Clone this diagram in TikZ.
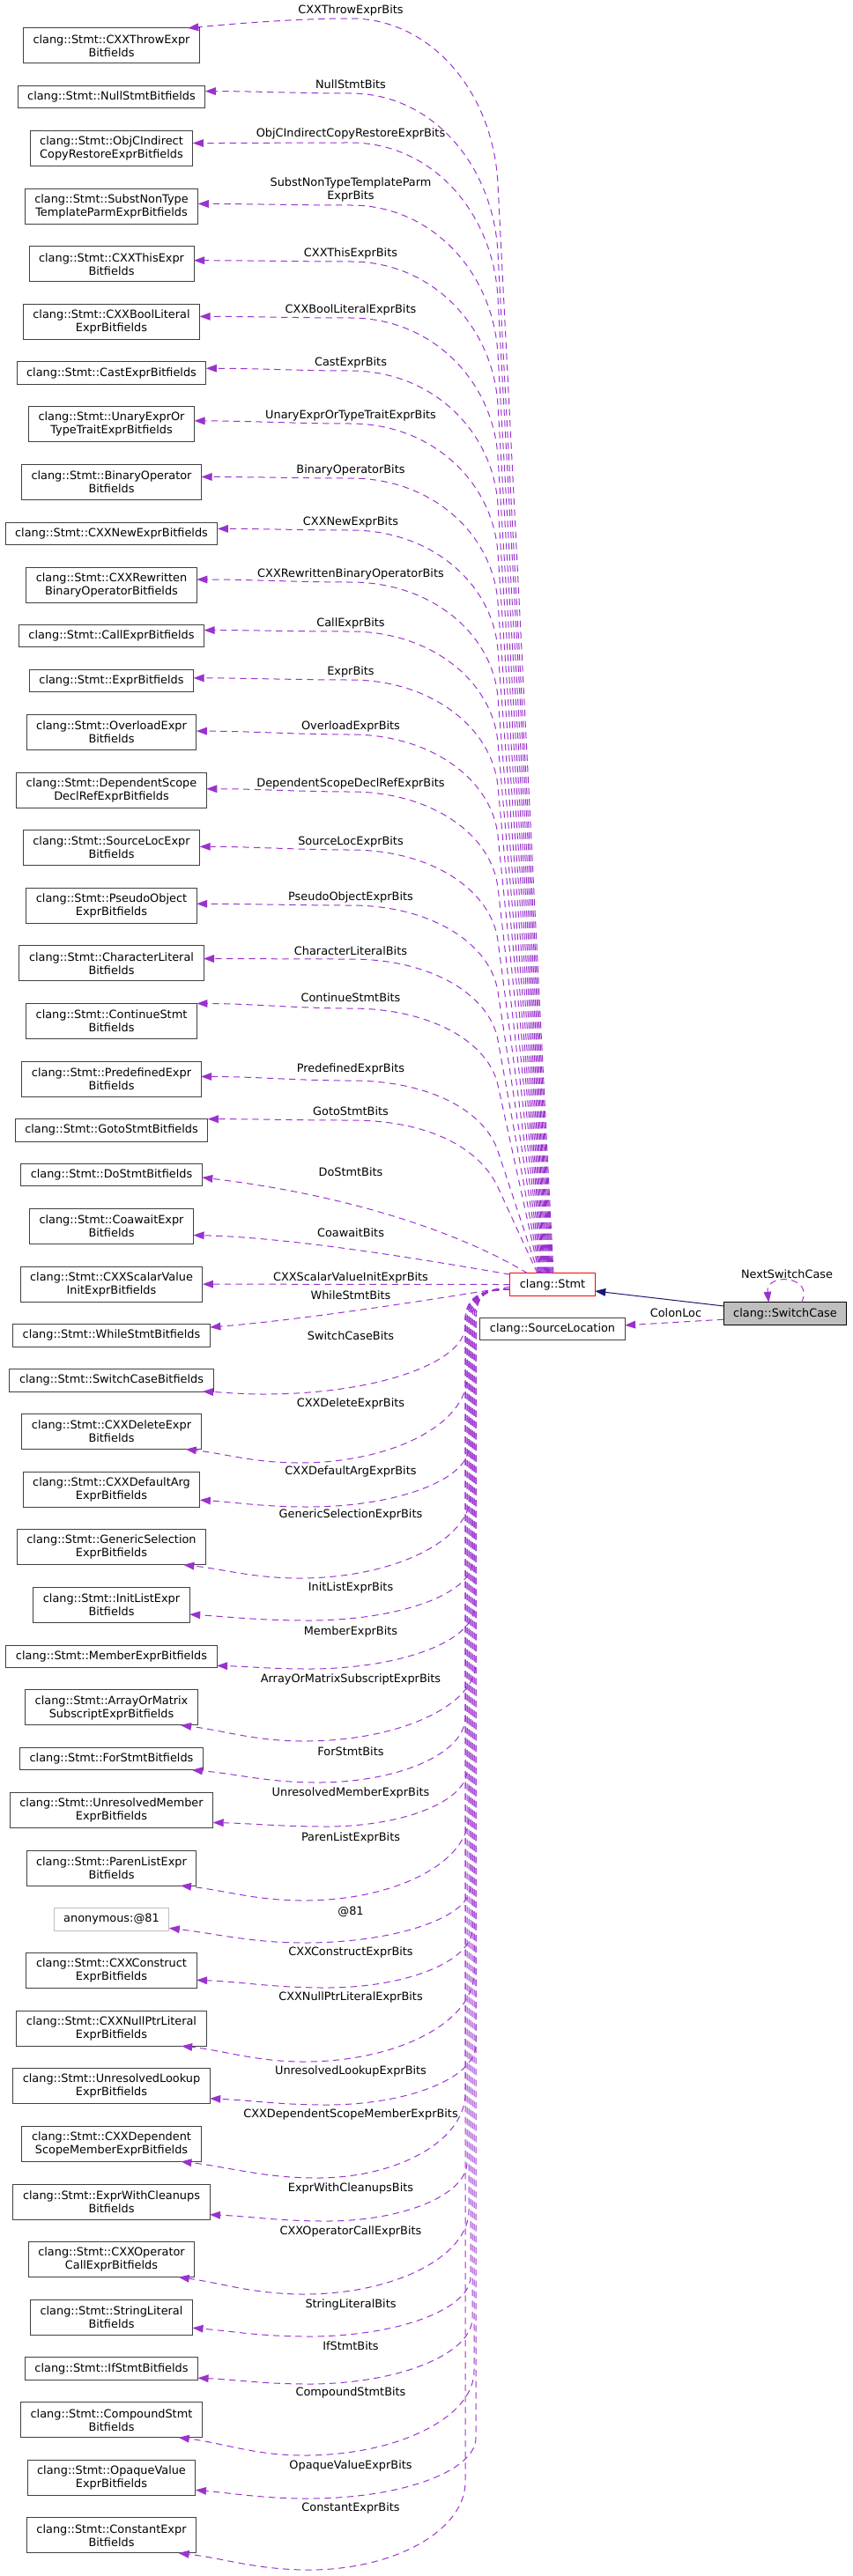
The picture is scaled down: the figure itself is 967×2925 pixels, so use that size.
\documentclass[tikz,border=0pt]{standalone}
\usepackage{fontspec}
\usetikzlibrary{positioning, arrows.meta}
\newfontfamily\dvs{DejaVu Sans}
\newcommand{\gfont}{\dvs\fontsize{9.65pt}{11.25pt}\selectfont}
\definecolor{depcol}{HTML}{9A32CD}
\definecolor{inhcol}{HTML}{191970}
\definecolor{boxcol}{HTML}{404040}
\definecolor{anoncol}{HTML}{BFBFBF}
\tikzset{
  bf/.style   = {draw=boxcol, fill=white, line width=0.75pt, align=center, inner xsep=8.3pt, inner ysep=2pt, outer sep=0pt, minimum height=19pt, font=\gfont},
  bf2/.style  = {bf, minimum height=30pt},
  lbl/.style  = {align=center, inner sep=0pt, font=\gfont},
  dep/.style  = {draw=depcol, line width=0.75pt, dash pattern=on 5.5pt off 4pt, -{Triangle[length=9pt, width=6.5pt]}},
  inh/.style  = {draw=inhcol, line width=0.75pt, -{Triangle[length=9pt, width=6.5pt]}}
}
\begin{document}
\begin{tikzpicture}[x=0.75pt, y=0.75pt]
  \useasboundingbox (0,0) rectangle (967,-2925);

  \node[bf2]                      (b1)  at (126.5,-52) {clang::Stmt::CXXThrowExpr\\Bitfields};
  \node[bf,  below=19.2pt of b1]  (b2)  {clang::Stmt::NullStmtBitfields};
  \node[bf2, below=19.2pt of b2]  (b3)  {clang::Stmt::ObjCIndirect\\CopyRestoreExprBitfields};
  \node[bf2, below=19.2pt of b3]  (b4)  {clang::Stmt::SubstNonType\\TemplateParmExprBitfields};
  \node[bf2, below=19.2pt of b4]  (b5)  {clang::Stmt::CXXThisExpr\\Bitfields};
  \node[bf2, below=19.2pt of b5]  (b6)  {clang::Stmt::CXXBoolLiteral\\ExprBitfields};
  \node[bf,  below=19.2pt of b6]  (b7)  {clang::Stmt::CastExprBitfields};
  \node[bf2, below=19.2pt of b7]  (b8)  {clang::Stmt::UnaryExprOr\\TypeTraitExprBitfields};
  \node[bf2, below=19.2pt of b8]  (b9)  {clang::Stmt::BinaryOperator\\Bitfields};
  \node[bf,  below=19.2pt of b9]  (b10) {clang::Stmt::CXXNewExprBitfields};
  \node[bf2, below=19.2pt of b10] (b11) {clang::Stmt::CXXRewritten\\BinaryOperatorBitfields};
  \node[bf,  below=19.2pt of b11] (b12) {clang::Stmt::CallExprBitfields};
  \node[bf,  below=19.2pt of b12] (b13) {clang::Stmt::ExprBitfields};
  \node[bf2, below=19.2pt of b13] (b14) {clang::Stmt::OverloadExpr\\Bitfields};
  \node[bf2, below=19.2pt of b14] (b15) {clang::Stmt::DependentScope\\DeclRefExprBitfields};
  \node[bf2, below=19.2pt of b15] (b16) {clang::Stmt::SourceLocExpr\\Bitfields};
  \node[bf2, below=19.2pt of b16] (b17) {clang::Stmt::PseudoObject\\ExprBitfields};
  \node[bf2, below=19.2pt of b17] (b18) {clang::Stmt::CharacterLiteral\\Bitfields};
  \node[bf2, below=19.2pt of b18] (b19) {clang::Stmt::ContinueStmt\\Bitfields};
  \node[bf2, below=19.2pt of b19] (b20) {clang::Stmt::PredefinedExpr\\Bitfields};
  \node[bf,  below=19.2pt of b20] (b21) {clang::Stmt::GotoStmtBitfields};
  \node[bf,  below=19.2pt of b21] (b22) {clang::Stmt::DoStmtBitfields};
  \node[bf2, below=19.2pt of b22] (b23) {clang::Stmt::CoawaitExpr\\Bitfields};
  \node[bf2, below=19.2pt of b23] (b24) {clang::Stmt::CXXScalarValue\\InitExprBitfields};
  \node[bf,  below=19.2pt of b24] (b25) {clang::Stmt::WhileStmtBitfields};
  \node[bf,  below=19.2pt of b25] (b26) {clang::Stmt::SwitchCaseBitfields};
  \node[bf2, below=19.2pt of b26] (b27) {clang::Stmt::CXXDeleteExpr\\Bitfields};
  \node[bf2, below=19.2pt of b27] (b28) {clang::Stmt::CXXDefaultArg\\ExprBitfields};
  \node[bf2, below=19.2pt of b28] (b29) {clang::Stmt::GenericSelection\\ExprBitfields};
  \node[bf2, below=19.2pt of b29] (b30) {clang::Stmt::InitListExpr\\Bitfields};
  \node[bf,  below=19.2pt of b30] (b31) {clang::Stmt::MemberExprBitfields};
  \node[bf2, below=19.2pt of b31] (b32) {clang::Stmt::ArrayOrMatrix\\SubscriptExprBitfields};
  \node[bf,  below=19.2pt of b32] (b33) {clang::Stmt::ForStmtBitfields};
  \node[bf2, below=19.2pt of b33] (b34) {clang::Stmt::UnresolvedMember\\ExprBitfields};
  \node[bf2, below=19.2pt of b34] (b35) {clang::Stmt::ParenListExpr\\Bitfields};
  \node[bf,  below=19.2pt of b35, draw=anoncol] (b36) {anonymous:@81};
  \node[bf2, below=19.2pt of b36] (b37) {clang::Stmt::CXXConstruct\\ExprBitfields};
  \node[bf2, below=19.2pt of b37] (b38) {clang::Stmt::CXXNullPtrLiteral\\ExprBitfields};
  \node[bf2, below=19.2pt of b38] (b39) {clang::Stmt::UnresolvedLookup\\ExprBitfields};
  \node[bf2, below=19.2pt of b39] (b40) {clang::Stmt::CXXDependent\\ScopeMemberExprBitfields};
  \node[bf2, below=19.2pt of b40] (b41) {clang::Stmt::ExprWithCleanups\\Bitfields};
  \node[bf2, below=19.2pt of b41] (b42) {clang::Stmt::CXXOperator\\CallExprBitfields};
  \node[bf2, below=19.2pt of b42] (b43) {clang::Stmt::StringLiteral\\Bitfields};
  \node[bf,  below=19.2pt of b43] (b44) {clang::Stmt::IfStmtBitfields};
  \node[bf2, below=19.2pt of b44] (b45) {clang::Stmt::CompoundStmt\\Bitfields};
  \node[bf2, below=19.2pt of b45] (b46) {clang::Stmt::OpaqueValue\\ExprBitfields};
  \node[bf2, below=19.2pt of b46] (b47) {clang::Stmt::ConstantExpr\\Bitfields};

  \node[bf, draw=red]                (stmt) at (627,-1458.5) {clang::Stmt};
  \node[bf, below=18.75pt of stmt]   (loc)  {clang::SourceLocation};
  \node[bf, draw=black, fill=anoncol] (sc)  at (891,-1491.5) {clang::SwitchCase};

  \draw[dep] ([xshift=0.75pt]stmt.north) -- (565,-209) .. controls +(-5,103) and +(92,0) .. (398,-21) .. controls +(-60,0) and +(50,5) .. ([xshift=-10pt]b1.north east);
  \draw[dep] ([xshift=0.1pt]stmt.north) -- (565,-287) .. controls +(-5.4,100) and +(92,0) .. (398,-106) .. controls +(-60,0) and +(60,0) .. ([yshift=5pt]b2.east);
  \draw[dep] ([xshift=-0.6pt]stmt.north) -- (565,-338) .. controls +(-5.4,97) and +(92,0) .. (398,-162) .. controls +(-60,0) and +(60,0) .. ([yshift=4.5pt]b3.east);
  \draw[dep] ([xshift=-1.3pt]stmt.north) -- (565,-402) .. controls +(-5.4,93) and +(92,0) .. (398,-233) .. controls +(-60,0) and +(60,0) .. ([yshift=2pt]b4.east);
  \draw[dep] ([xshift=-2pt]stmt.north) -- (565,-460) .. controls +(-5.4,90) and +(92,0) .. (398,-297) .. controls +(-60,0) and +(60,0) .. ([yshift=3pt]b5.east);
  \draw[dep] ([xshift=-2.6pt]stmt.north) -- (565,-519) .. controls +(-5.5,87) and +(92,0) .. (398,-361) .. controls +(-60,0) and +(60,0) .. ([yshift=4.5pt]b6.east);
  \draw[dep] ([xshift=-3.3pt]stmt.north) -- (565,-573) .. controls +(-5.5,84) and +(92,0) .. (398,-421) .. controls +(-60,0) and +(60,0) .. ([yshift=4pt]b7.east);
  \draw[dep] ([xshift=-4pt]stmt.north) -- (565,-628) .. controls +(-5.6,81) and +(92,0) .. (398,-481) .. controls +(-60,0) and +(60,0) .. ([yshift=3pt]b8.east);
  \draw[dep] ([xshift=-4.6pt]stmt.north) -- (565,-684) .. controls +(-5.7,78) and +(92,0) .. (398,-543) .. controls +(-60,0) and +(60,0) .. ([yshift=4.5pt]b9.east);
  \draw[dep] ([xshift=-5.3pt]stmt.north) -- (565,-738) .. controls +(-5.8,75) and +(92,0) .. (398,-602) .. controls +(-60,0) and +(60,0) .. ([yshift=4pt]b10.east);
  \draw[dep] ([xshift=-6pt]stmt.north) -- (565,-792) .. controls +(-5.9,72) and +(92,0) .. (398,-661) .. controls +(-60,0) and +(60,0) .. ([yshift=4.5pt]b11.east);
  \draw[dep] ([xshift=-6.7pt]stmt.north) -- (565,-843) .. controls +(-6.1,69) and +(92,0) .. (398,-717) .. controls +(-60,0) and +(60,0) .. ([yshift=5pt]b12.east);
  \draw[dep] ([xshift=-7.3pt]stmt.north) -- (565,-893) .. controls +(-6.2,66) and +(92,0) .. (398,-772) .. controls +(-60,0) and +(60,0) .. ([yshift=2.5pt]b13.east);
  \draw[dep] ([xshift=-8pt]stmt.north) -- (565,-949) .. controls +(-6.5,63) and +(92,0) .. (398,-834) .. controls +(-60,0) and +(60,0) .. ([yshift=1pt]b14.east);
  \draw[dep] ([xshift=-8.7pt]stmt.north) -- (565,-1008) .. controls +(-6.9,60) and +(92,0) .. (398,-899) .. controls +(-60,0) and +(60,0) .. ([yshift=1pt]b15.east);
  \draw[dep] ([xshift=-9.4pt]stmt.north) -- (565,-1068) .. controls +(-7.5,57) and +(92,0) .. (398,-965) .. controls +(-60,0) and +(60,0) .. ([yshift=1pt]b16.east);
  \draw[dep] ([xshift=-10pt]stmt.north) -- (565,-1126) .. controls +(-8.2,54) and +(92,0) .. (398,-1028) .. controls +(-60,0) and +(60,0) .. ([yshift=1.5pt]b17.east);
  \draw[dep] ([xshift=-10.7pt]stmt.north) -- (565,-1181) .. controls +(-9.2,51) and +(92,0) .. (398,-1089) .. controls +(-60,0) and +(60,0) .. ([yshift=4pt]b18.east);
  \draw[dep] ([xshift=-11.4pt]stmt.north) -- (565,-1232) .. controls +(-10.5,48) and +(92,0) .. (398,-1145) .. controls +(-60,0) and +(60,0) .. (b19.north east);
  \draw[dep] ([xshift=-12pt]stmt.north) -- (565,-1307) .. controls +(-14.5,44) and +(92,0) .. (398,-1227) .. controls +(-60,0) and +(60,0) .. ([yshift=2pt]b20.east);
  \draw[dep] ([xshift=-12.8pt]stmt.north) -- (565,-1348) .. controls +(-19.3,42) and +(92,0) .. (398,-1272) .. controls +(-60,0) and +(60,0) .. (b21.north east);
  \draw[dep] ([xshift=15pt]stmt.north west) .. controls (540,-1410) and (420,-1360) .. ([yshift=-2pt]b22.east);
  \draw[dep] ([yshift=-1pt]stmt.north west) .. controls (480,-1430) and (330,-1405) .. ([yshift=-7.5pt]b23.east);
  \draw[dep] (stmt.west) -- (b24.east);
  \draw[dep] ([yshift=-2pt]stmt.west) .. controls (500,-1474) and (350,-1498) .. ([yshift=7pt]b25.east);

  \draw[dep] ([yshift=-4pt]stmt.west) .. controls (550,-1464) and (528,-1470) .. (528,-1500) -- (528,-1505) .. controls +(0,-43) and +(125,0) .. (300,-1583) .. controls +(-28,0) and +(24,-1) .. ([xshift=-9pt]b26.south east);
  \draw[dep] ([yshift=-4pt]stmt.west) .. controls (550,-1464) and (530,-1470) .. (530,-1500) -- (530,-1563) .. controls +(0,-54) and +(105,0) .. (340,-1661) .. controls +(-52,0) and +(45,-5) .. ([xshift=-13pt]b27.south east);
  \draw[dep] ([yshift=-4pt]stmt.west) .. controls (550,-1464) and (532,-1470) .. (532,-1500) -- (532,-1643) .. controls +(0,-37) and +(100,0) .. (350,-1711) .. controls +(-49,0) and +(43,-3) .. ([yshift=-9pt]b28.east);
  \draw[dep] ([yshift=-4pt]stmt.west) .. controls (550,-1464) and (534,-1470) .. (534,-1500) -- (534,-1697) .. controls +(0,-52) and +(107,0) .. (340,-1792) .. controls +(-52,0) and +(46,-5) .. ([xshift=-19pt]b29.south east);
  \draw[dep] ([yshift=-4pt]stmt.west) .. controls (550,-1464) and (536,-1470) .. (536,-1500) -- (536,-1773) .. controls +(0,-37) and +(102,0) .. (350,-1840) .. controls +(-54,0) and +(47,-3) .. ([yshift=-8pt]b30.east);
  \draw[dep] ([yshift=-4pt]stmt.west) .. controls (550,-1464) and (538,-1470) .. (538,-1500) -- (538,-1825) .. controls +(0,-39) and +(103,0) .. (350,-1895) .. controls +(-42,0) and +(36,-1) .. ([yshift=-8pt]b31.east);
  \draw[dep] ([yshift=-4pt]stmt.west) .. controls (550,-1464) and (540,-1470) .. (540,-1500) -- (540,-1888) .. controls +(0,-49) and +(107,0) .. (345,-1977) .. controls +(-56,0) and +(49,-6) .. ([xshift=-14.5pt]b32.south east);
  \draw[dep] ([yshift=-4pt]stmt.west) .. controls (550,-1464) and (528,-1470) .. (528,-1500) -- (528,-1950) .. controls +(0,-41) and +(92,0) .. (360,-2024) .. controls +(-57,0) and +(50,-4) .. ([xshift=-9.5pt]b33.south east);
  \draw[dep] ([yshift=-4pt]stmt.west) .. controls (550,-1464) and (530,-1470) .. (530,-1500) -- (530,-2010) .. controls +(0,-35) and +(88,0) .. (370,-2074) .. controls +(-51,0) and +(44,-1) .. ([yshift=-10.5pt]b34.east);
  \draw[dep] ([yshift=-4pt]stmt.west) .. controls (550,-1464) and (532,-1470) .. (532,-1500) -- (532,-2062) .. controls +(0,-53) and +(103,0) .. (345,-2158) .. controls +(-56,0) and +(49,-5) .. ([xshift=-13.5pt]b35.south east);
  \draw[dep] ([yshift=-4pt]stmt.west) .. controls (550,-1464) and (534,-1470) .. (534,-1500) -- (534,-2142) .. controls +(0,-35) and +(104,0) .. (345,-2206) .. controls +(-60,0) and +(52,-6) .. ([yshift=-7.5pt]b36.east);
  \draw[dep] ([yshift=-4pt]stmt.west) .. controls (550,-1464) and (536,-1470) .. (536,-1500) -- (536,-2190) .. controls +(0,-37) and +(91,0) .. (370,-2257) .. controls +(-59,0) and +(51,-2) .. ([yshift=-8pt]b37.east);
  \draw[dep] ([yshift=-4pt]stmt.west) .. controls (550,-1464) and (538,-1470) .. (538,-1500) -- (538,-2240) .. controls +(0,-56) and +(106,0) .. (345,-2341) .. controls +(-55,0) and +(48,-5) .. ([xshift=-21pt]b38.south east);
  \draw[dep] ([yshift=-4pt]stmt.west) .. controls (550,-1464) and (540,-1470) .. (540,-1500) -- (540,-2322) .. controls +(0,-37) and +(94,0) .. (370,-2390) .. controls +(-52,0) and +(46,-2) .. ([yshift=-10.5pt]b39.east);
  \draw[dep] ([yshift=-4pt]stmt.west) .. controls (550,-1464) and (528,-1470) .. (528,-1500) -- (528,-2377) .. controls +(0,-53) and +(92,0) .. (360,-2473) .. controls +(-62,0) and +(54,-6) .. ([xshift=-17pt]b40.south east);
  \draw[dep] ([yshift=-4pt]stmt.west) .. controls (550,-1464) and (530,-1470) .. (530,-1500) -- (530,-2455) .. controls +(0,-37) and +(88,0) .. (370,-2522) .. controls +(-53,0) and +(46,-2) .. ([yshift=-11pt]b41.east);
  \draw[dep] ([yshift=-4pt]stmt.west) .. controls (550,-1464) and (532,-1470) .. (532,-1500) -- (532,-2510) .. controls +(0,-52) and +(103,0) .. (345,-2605) .. controls +(-57,0) and +(50,-7) .. ([xshift=-13.5pt]b42.south east);
  \draw[dep] ([yshift=-4pt]stmt.west) .. controls (550,-1464) and (534,-1470) .. (534,-1500) -- (534,-2585) .. controls +(0,-37) and +(101,0) .. (350,-2653) .. controls +(-53,0) and +(46,-4) .. ([yshift=-9pt]b43.east);
  \draw[dep] ([yshift=-4pt]stmt.west) .. controls (550,-1464) and (536,-1470) .. (536,-1500) -- (536,-2632) .. controls +(0,-41) and +(102,0) .. (350,-2707) .. controls +(-50,0) and +(44,-2) .. ([yshift=-8pt]b44.east);
  \draw[dep] ([yshift=-4pt]stmt.west) .. controls (550,-1464) and (538,-1470) .. (538,-1500) -- (538,-2692) .. controls +(0,-53) and +(106,0) .. (345,-2788) .. controls +(-57,0) and +(50,-6) .. ([xshift=-20pt]b45.south east);
  \draw[dep] ([yshift=-4pt]stmt.west) .. controls (550,-1464) and (540,-1470) .. (540,-1500) -- (540,-2768) .. controls +(0,-38) and +(105,0) .. (350,-2837) .. controls +(-51,0) and +(45,-4) .. ([yshift=-10.5pt]b46.east);
  \draw[dep] ([yshift=-4pt]stmt.west) .. controls (550,-1464) and (528,-1470) .. (528,-1500) -- (528,-2818) .. controls +(0,-55) and +(97,0) .. (351,-2918) .. controls +(-60,0) and +(52,-6) .. ([xshift=-15pt]b47.south east);

  \draw[inh] ([yshift=6.4pt]sc.west) -- ([yshift=-5.6pt]stmt.east);
  \draw[dep] ([yshift=-5pt]sc.west) -- ([yshift=3pt]loc.east);
  \draw[dep] ([xshift=14pt]sc.north) .. controls +(15,31) and +(-4,34) .. ([xshift=-14pt]sc.north);

  \node[lbl] (e1)  at (398,-12)   {CXXThrowExprBits};
  \node[lbl] (e2)  at (398,-96)   {NullStmtBits};
  \node[lbl] (e3)  at (398,-152)  {ObjCIndirectCopyRestoreExprBits};
  \node[lbl] (e4)  at (398,-215.5) {SubstNonTypeTemplateParm\\ExprBits};
  \node[lbl] (e5)  at (398,-288)  {CXXThisExprBits};
  \node[lbl] (e6)  at (398,-352)  {CXXBoolLiteralExprBits};
  \node[lbl] (e7)  at (398,-412)  {CastExprBits};
  \node[lbl] (e8)  at (398,-472)  {UnaryExprOrTypeTraitExprBits};
  \node[lbl] (e9)  at (398,-534)  {BinaryOperatorBits};
  \node[lbl] (e10) at (398,-593)  {CXXNewExprBits};
  \node[lbl] (e11) at (398,-652)  {CXXRewrittenBinaryOperatorBits};
  \node[lbl] (e12) at (398,-708)  {CallExprBits};
  \node[lbl] (e13) at (398,-763)  {ExprBits};
  \node[lbl] (e14) at (398,-825)  {OverloadExprBits};
  \node[lbl] (e15) at (398,-890)  {DependentScopeDeclRefExprBits};
  \node[lbl] (e16) at (398,-956)  {SourceLocExprBits};
  \node[lbl] (e17) at (398,-1019) {PseudoObjectExprBits};
  \node[lbl] (e18) at (398,-1080) {CharacterLiteralBits};
  \node[lbl] (e19) at (398,-1133) {ContinueStmtBits};
  \node[lbl] (e20) at (398,-1214) {PredefinedExprBits};
  \node[lbl] (e21) at (398,-1262) {GotoStmtBits};
  \node[lbl] (e22) at (398,-1331) {DoStmtBits};
  \node[lbl] (e23) at (398,-1400) {CoawaitBits};
  \node[lbl] (e24) at (398,-1451) {CXXScalarValueInitExprBits};
  \node[lbl] (e25) at (398,-1471) {WhileStmtBits};
  \node[lbl] (e26) at (398,-1517) {SwitchCaseBits};
  \node[lbl] (e27) at (398,-1594) {CXXDeleteExprBits};
  \node[lbl] (e28) at (398,-1671) {CXXDefaultArgExprBits};
  \node[lbl] (e29) at (398,-1720) {GenericSelectionExprBits};
  \node[lbl] (e30) at (398,-1803) {InitListExprBits};
  \node[lbl] (e31) at (398,-1853) {MemberExprBits};
  \node[lbl] (e32) at (398,-1907) {ArrayOrMatrixSubscriptExprBits};
  \node[lbl] (e33) at (398,-1989) {ForStmtBits};
  \node[lbl] (e34) at (398,-2036) {UnresolvedMemberExprBits};
  \node[lbl] (e35) at (398,-2087) {ParenListExprBits};
  \node[lbl] (e36) at (398,-2171) {@81};
  \node[lbl] (e37) at (398,-2217) {CXXConstructExprBits};
  \node[lbl] (e38) at (398,-2268) {CXXNullPtrLiteralExprBits};
  \node[lbl] (e39) at (398,-2352) {UnresolvedLookupExprBits};
  \node[lbl] (e40) at (398,-2401) {CXXDependentScopeMemberExprBits};
  \node[lbl] (e41) at (398,-2485) {ExprWithCleanupsBits};
  \node[lbl] (e42) at (398,-2534) {CXXOperatorCallExprBits};
  \node[lbl] (e43) at (398,-2617) {StringLiteralBits};
  \node[lbl] (e44) at (398,-2664) {IfStmtBits};
  \node[lbl] (e45) at (398,-2717) {CompoundStmtBits};
  \node[lbl] (e46) at (398,-2800) {OpaqueValueExprBits};
  \node[lbl] (e47) at (398,-2848) {ConstantExprBits};
  \node[lbl] (colon) at (767,-1491) {ColonLoc};
  \node[lbl] (next)  at (893,-1447) {NextSwitchCase};
\end{tikzpicture}
\end{document}
